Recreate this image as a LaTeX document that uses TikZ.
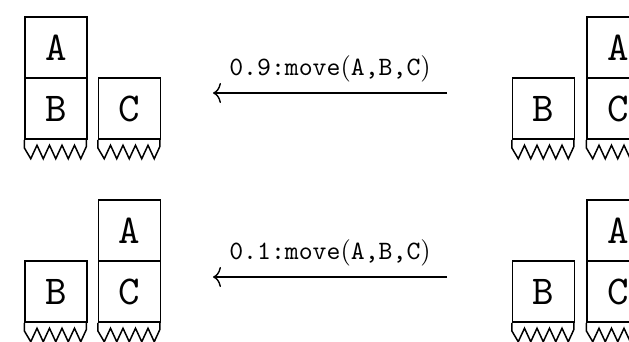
\documentclass[tikz,border=0pt]{standalone}
\usepackage{fontspec}
\newfontfamily\ttten{lmmono10-regular.otf}
\newfontfamily\rmten{lmroman10-regular.otf}
\usetikzlibrary{arrows.meta}
\begin{document}
\begin{tikzpicture}[x=1pt,y=-1pt,
  blk/.style={draw,line width=1.5pt,minimum width=62pt,minimum height=61pt,inner sep=0pt,
    font=\fontsize{41}{41}\selectfont\ttten},
  lbl/.style={font=\fontsize{26.5}{30}\selectfont\ttten,anchor=base,yshift=18pt},
  arr/.style={line width=1.4pt,-{To[length=8pt,width=20pt,line width=1.4pt]}},
  ground/.pic={
    \draw[line width=1.5pt,line join=miter] (0,0) -- (0,8) -- (6.5,19) -- (12.75,5.5) -- (19,19) -- (25.25,5.5)
      -- (31.5,19) -- (37.75,5.5) -- (44,19) -- (50.25,5.5) -- (56.5,19) -- (62,7) -- (62,0);
  }]
\useasboundingbox (0,0) rectangle (629,341);
\clip (0,0) rectangle (629,341);
% top left
\node[blk] (tlA) at (56,47.5) {A};
\node[blk] (tlB) at (56,108.5) {B};
\node[blk] (tlC) at (129.5,108.5) {C};
\pic at (tlB.south west) {ground};
\pic at (tlC.south west) {ground};
% top right
\node[blk] (trB) at (543.5,108.5) {B};
\node[blk] (trA) at (618,47.5) {A};
\node[blk] (trC) at (618,108.5) {C};
\pic at (trB.south west) {ground};
\pic at (trC.south west) {ground};
% bottom left
\node[blk] (blB) at (56,291.5) {B};
\node[blk] (blA) at (129.5,230.5) {A};
\node[blk] (blC) at (129.5,291.5) {C};
\pic at (blB.south west) {ground};
\pic at (blC.south west) {ground};
% bottom right
\node[blk] (brB) at (543.5,291.5) {B};
\node[blk] (brA) at (618,230.5) {A};
\node[blk] (brC) at (618,291.5) {C};
\pic at (brB.south west) {ground};
\pic at (brC.south west) {ground};
% arrows
\coordinate (s1) at (447,93);
\coordinate (e1) at (213,93);
\coordinate (s2) at (447,277);
\coordinate (e2) at (213,277);
\draw[arr] (s1) -- node[lbl] {0.9:move{\rmten(}A,B,C{\rmten)}} (e1);
\draw[arr] (s2) -- node[lbl] {0.1:move{\rmten(}A,B,C{\rmten)}} (e2);
\end{tikzpicture}
\end{document}
